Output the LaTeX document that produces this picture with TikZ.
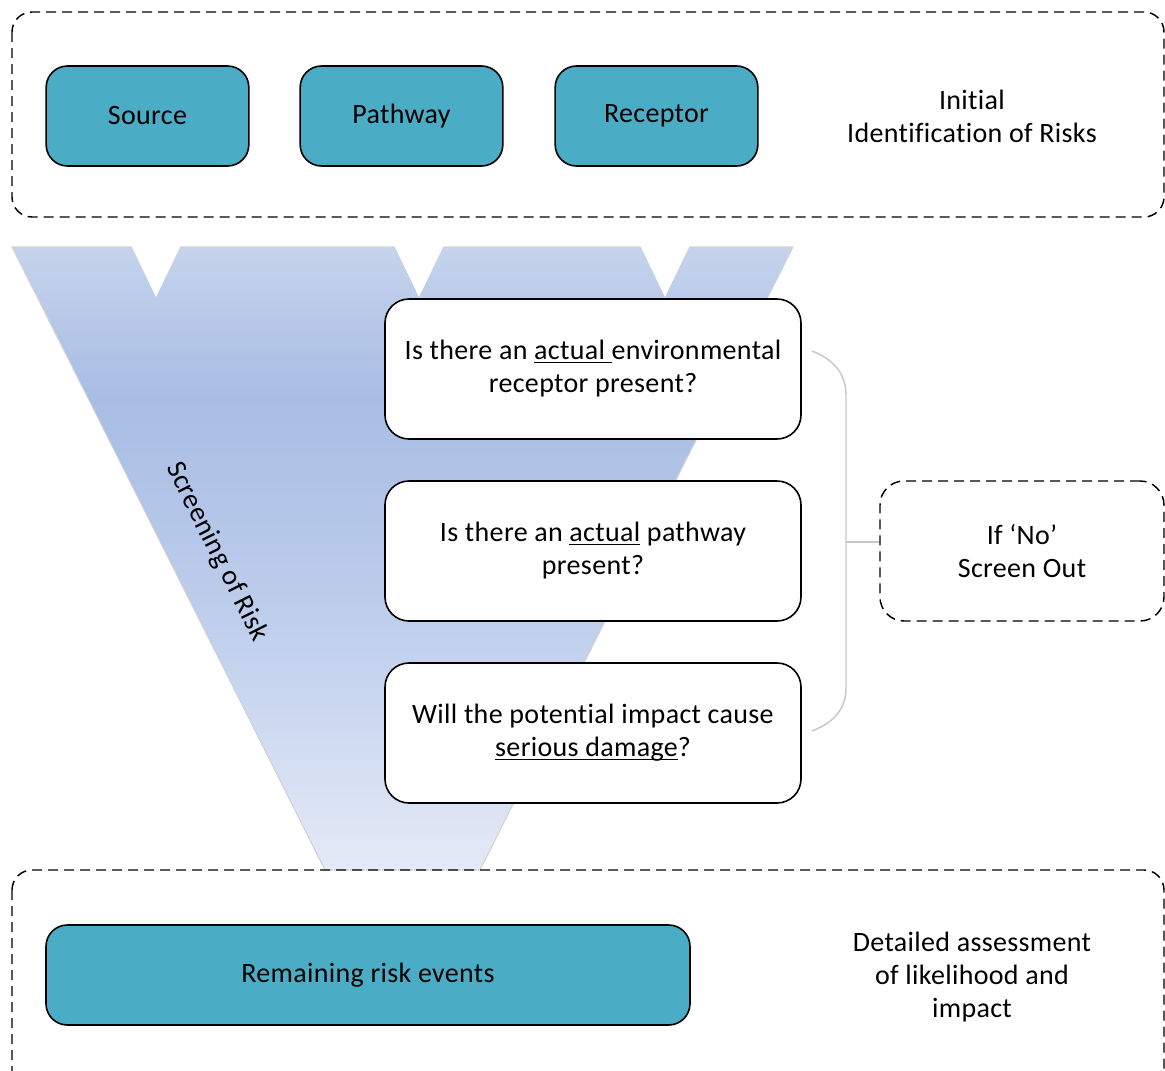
\documentclass[tikz,border=0pt]{standalone}
\usepackage{fontspec}
\setmainfont{Carlito}[Ligatures=NoCommon, LetterSpace=1.2]
% underline drawn just below the baseline
\newcommand{\ulbox}[1]{\setbox0=\hbox{#1}\rlap{\rule[-2.6pt]{\wd0}{0.9pt}}\box0\relax}
\definecolor{fnltop}{RGB}{198,211,236}
\definecolor{fnldark}{RGB}{168,189,228}
\definecolor{fnlmid}{RGB}{190,206,236}
\definecolor{fnlbot}{RGB}{228,234,246}
\definecolor{teal}{RGB}{75,172,198}
\definecolor{bracegray}{RGB}{200,200,200}
\pgfdeclareverticalshading{funnelshade}{100bp}{%
  color(0bp)=(fnlbot); color(25bp)=(fnlbot); color(45bp)=(fnlmid);
  color(63bp)=(fnldark); color(75bp)=(fnltop); color(100bp)=(fnltop)}
\begin{document}
\begin{tikzpicture}[x=0.75pt,y=-0.75pt,
  txt/.style={font=\fontsize{21}{24.75}\selectfont, align=center, text=black},
  zone/.style={draw=black, line width=1.1pt, dash pattern=on 7.5pt off 4.5pt, rounded corners=15pt},
  tealbox/.style={txt, draw=black, line width=1.2pt, fill=teal, rounded corners=16pt, minimum height=75pt},
  question/.style={txt, draw=black, line width=1.2pt, fill=white, rounded corners=18pt, minimum width=312pt, minimum height=105pt},
  notch/.style={fill=white, draw=none}]
\path[use as bounding box] (0,0) rectangle (1165,1071);
\clip (0,0) rectangle (1165,1071);

% screening funnel
\shade[shading=funnelshade, draw=gray!35, line width=0.8pt]
  (12,247) -- (793,247) -- (480,870) -- (325,870) -- cycle;
\fill[notch] (131,245) -- (181,245) -- (156,297) -- cycle;
\fill[notch] (394,245) -- (444,245) -- (419,297) -- cycle;
\fill[notch] (640,245) -- (690,245) -- (665,297) -- cycle;
\node[txt, rotate=-63.3] (screening) at (217,552) {Screening of Risk};

% initial identification zone
\draw[zone] (12,12) rectangle (1164,217);
\node[tealbox, minimum width=152pt] (source) at (147.5,116) {Source};
\node[tealbox, minimum width=152pt] (pathway) at (401.5,116) {Pathway};
\node[tealbox, minimum width=152pt] (receptor) at (656.5,116) {Receptor};
\node[txt] (initial) at (972,116) {Initial\\Identification of Risks};

% screening questions
\node[question] (q1) at (593,369) {Is there an \ulbox{actual }environmental\\receptor present?};
\node[question] (q2) at (593,551) {Is there an \ulbox{actual} pathway\\present?};
\node[question] (q3) at (593,733) {Will the potential impact cause\\\ulbox{serious damage}?};

% grouping brace and screen-out box
\node[txt, draw=black, line width=1.1pt, dash pattern=on 7.5pt off 4.5pt, rounded corners=18pt,
      minimum width=213pt, minimum height=105pt] (screenout) at (1022,551) {If ‘No’\\Screen Out};
\coordinate (btop) at (812,351);
\coordinate (bbot) at (812,731);
\coordinate (bmid) at (846,542);
\draw[bracegray, line width=1.1pt]
  (btop) .. controls (835,360) and (846,375) .. (846,395) -- (846,688)
  .. controls (846,708) and (835,722) .. (bbot);
\draw[bracegray, line width=1.1pt] (bmid) -- (screenout.west |- bmid);

% detailed assessment zone
\draw[zone] (12,870) rectangle (1164,1100);
\node[tealbox, minimum width=483pt] (remaining) at (368,975) {Remaining risk events};
\node[txt] (detailed) at (972,977) {Detailed assessment\\of likelihood and\\impact};
\end{tikzpicture}
\end{document}
